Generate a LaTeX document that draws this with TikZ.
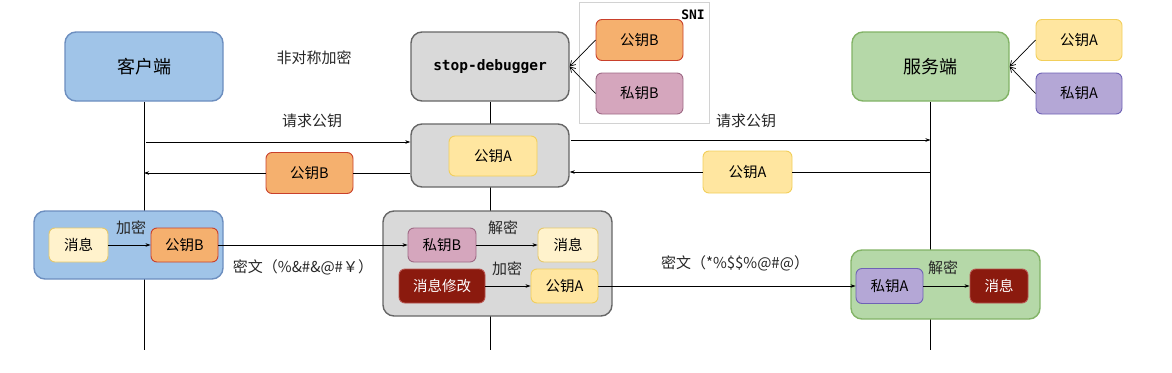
\documentclass[tikz,border=0pt]{standalone}
\usepackage{fontspec}
\setmainfont{Noto Sans CJK SC}
\setmonofont{DejaVu Sans Mono}
\usepackage{xcolor}
\usepackage{tikz}
\usetikzlibrary{arrows.meta,positioning,backgrounds}

\definecolor{cliFill}{HTML}{A0C4E8}
\definecolor{cliLine}{HTML}{6C8EBF}
\definecolor{srvFill}{HTML}{B5D8A8}
\definecolor{srvLine}{HTML}{82B366}
\definecolor{midFill}{HTML}{D9D9D9}
\definecolor{midLine}{HTML}{666666}
\definecolor{orgFill}{HTML}{F5B06E}
\definecolor{orgLine}{HTML}{C9402B}
\definecolor{pinkFill}{HTML}{D5A6BD}
\definecolor{pinkLine}{HTML}{9E6A85}
\definecolor{yelFill}{HTML}{FFE6A0}
\definecolor{yelLine}{HTML}{F2CF5B}
\definecolor{msgFill}{HTML}{FFF2CC}
\definecolor{msgLine}{HTML}{E6C86A}
\definecolor{redFill}{HTML}{8B1A0E}
\definecolor{redLine}{HTML}{B85450}
\definecolor{purFill}{HTML}{B4A7D6}
\definecolor{purLine}{HTML}{6E62B5}

\begin{document}
\begin{tikzpicture}[
  x=1pt, y=-1pt, font=\fontsize{15}{18}\selectfont,
  box/.style={draw, rounded corners=6pt, align=center, inner sep=0pt, line width=0.9pt},
  role/.style={box, rounded corners=11pt, minimum width=158pt, minimum height=69pt,
               line width=1.4pt, font=\fontsize{18}{21}\selectfont},
  grp/.style={draw, rounded corners=11pt, inner sep=0pt, line width=1.4pt},
  keybox/.style={box, minimum width=87pt, minimum height=41pt, font=\fontsize{14.5}{17}\selectfont},
  chip/.style={box, minimum width=67pt, minimum height=34pt, font=\fontsize{14.5}{17}\selectfont},
  pubA/.style={fill=yelFill, draw=yelLine},
  pubB/.style={fill=orgFill, draw=orgLine},
  priA/.style={fill=purFill, draw=purLine},
  priB/.style={fill=pinkFill, draw=pinkLine},
  msg/.style={fill=msgFill, draw=msgLine},
  hot/.style={fill=redFill, draw=redLine, text=white},
  flow/.style={-{Stealth[length=5pt,width=3.5pt]}, line width=0.7pt},
  barb/.style={-{Straight Barb[length=5pt,width=6pt]}, line width=0.7pt},
  life/.style={line width=0.8pt},
  elab/.style={inner sep=1pt, text=black!85}
]
  \useasboundingbox (0,0) rectangle (1172,372);
  \coordinate (bot) at (0,350);

  % roles
  \node[role, fill=cliFill, draw=cliLine] (client) at (144,66.5) {客户端};
  \node[role, fill=midFill, draw=midLine, font=\ttfamily\bfseries\fontsize{14.5}{17}\selectfont] (stop) at (490,66.5) {stop-debugger};
  \node[role, fill=srvFill, draw=srvLine, minimum width=157pt] (server) at (930.5,66.5) {服务端};
  \node[elab] (asym) at (314,58) {非对称加密};

  % SNI certificates
  \node[draw=gray!35, line width=0.8pt, minimum width=130pt, minimum height=121pt] (sni) at (644,62.5) {};
  \node[font=\ttfamily\bfseries\fontsize{13}{15}\selectfont, inner sep=0pt] (sniTag) at (693,15) {SNI};
  \node[keybox, pubB] (sniPubB) at (639.5,40) {公钥B};
  \node[keybox, priB] (sniPriB) at (639.5,93.5) {私钥B};
  \node[keybox, pubA, minimum width=86pt] (srvPubA) at (1079,40) {公钥A};
  \node[keybox, priA, minimum width=86pt] (srvPriA) at (1079,93.5) {私钥A};
  \draw[barb] (sniPubB.west) -- (stop.east);
  \draw[barb] (sniPriB.west) -- (stop.east);
  \draw[barb] (srvPubA.west) -- (server.east);
  \draw[barb] (srvPriA.west) -- (server.east);

  % key exchange
  \node[grp, fill=midFill, draw=midLine, minimum width=158pt, minimum height=63pt] (proxy) at (490,155.5) {};
  \node[keybox, pubA, minimum width=88pt, minimum height=40pt] (proxyPubA) at (493,156) {公钥A};
  \node[elab] (reqLeft) at (312,121) {请求公钥};
  \node[elab] (reqRight) at (746,121) {请求公钥};
  \node[keybox, pubB] (retPubB) at (309.5,173) {公钥B};
  \node[keybox, pubA, minimum width=89pt, minimum height=42pt] (retPubA) at (747.5,172) {公钥A};
  \coordinate (reqC) at (146,142);
  \coordinate (reqP) at (571,140);
  \draw[flow] (reqC) -- (reqC -| proxy.west);
  \draw[flow] (reqP) -- (reqP -| server);
  \draw[life] (server |- retPubA) -- (retPubA);
  \draw[flow] (retPubA) -- (retPubA -| proxy.east);
  \draw[life] (proxy.west |- retPubB) -- (retPubB);
  \draw[flow] (retPubB) -- (retPubB -| client);

  % client encrypts
  \node[grp, fill=cliFill, draw=cliLine, minimum width=189pt, minimum height=68pt] (cliGrp) at (128.5,245) {};
  \node[chip, msg, minimum width=59pt] (cliMsg) at (78.5,245) {消息};
  \node[chip, pubB] (cliPubB) at (184.5,245) {公钥B};
  \node[elab] (encCli) at (131,228) {加密};
  \draw[flow] (cliMsg) -- (cliPubB);

  % stop-debugger decrypts and re-encrypts
  \node[grp, fill=midFill, draw=midLine, minimum width=229pt, minimum height=105pt] (midGrp) at (497.5,263.5) {};
  \node[chip, priB, minimum width=68pt] (midPriB) at (442,245) {私钥B};
  \node[chip, msg, minimum width=60pt] (midMsg) at (568,245) {消息};
  \node[elab] (decMid) at (503,228) {解密};
  \node[chip, hot, minimum width=86pt] (midEdit) at (442,286) {消息修改};
  \node[chip, pubA] (midPubA) at (564.5,286) {公钥A};
  \node[elab] (encMid) at (507,269) {加密};
  \draw[flow] (midPriB) -- (midMsg);
  \draw[flow] (midEdit) -- (midPubA);
  \draw[flow] (cliPubB) -- (midPriB);
  \node[elab] (cipherB) at (303,267) {密文（\%\&\#\&@\#￥）};

  % server decrypts
  \node[grp, fill=srvFill, draw=srvLine, minimum width=189pt, minimum height=69pt] (srvGrp) at (945.5,284.5) {};
  \node[chip, priA, minimum height=35pt] (srvPriA2) at (889.5,286) {私钥A};
  \node[chip, hot, minimum width=58pt] (srvMsg) at (999,286) {消息};
  \node[elab] (decSrv) at (943,268) {解密};
  \draw[flow] (srvPriA2) -- (srvMsg);
  \draw[flow] (midPubA) -- (srvPriA2);
  \node[elab] (cipherA) at (735,263) {密文（*\%\$\$\%@\#@）};

  % lifelines
  \begin{scope}[on background layer]
    \draw[life] (client.south) -- (client |- bot);
    \draw[life] (stop.south) -- (stop |- bot);
    \draw[life] (server.south) -- (server |- bot);
  \end{scope}
\end{tikzpicture}
\end{document}
